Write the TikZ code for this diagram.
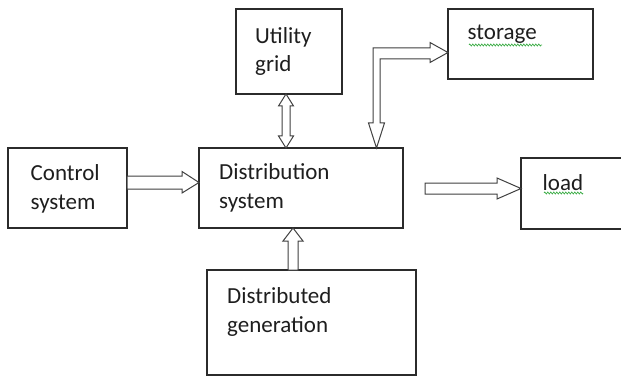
\documentclass[tikz,border=0pt]{standalone}
\usepackage{fontspec}
\setmainfont{Carlito}
\usetikzlibrary{calc,decorations.pathmorphing}
\definecolor{boxc}{HTML}{2B2B2B}
\definecolor{arrc}{HTML}{404040}
\definecolor{txtc}{HTML}{1E1E1E}
\definecolor{spellc}{HTML}{3FAE49}
\begin{document}
\begin{tikzpicture}[x=1pt,y=-1pt,
  box/.style={draw=boxc, line width=1.3pt, inner sep=0pt, outer sep=0pt, anchor=north west},
  txt/.style={inner sep=0pt, anchor=base west, align=left, font=\fontsize{23}{28.7}\selectfont, text=txtc},
  blk/.style={draw=arrc, line width=1pt, fill=white, line join=miter},
  squig/.style={draw=spellc, line width=0.7pt, decorate, decoration={zigzag, segment length=3pt, amplitude=1pt}}]
\useasboundingbox (0,0) rectangle (621,377);
\clip (0,0) rectangle (621,377);
% boxes
\node[box, minimum width=106pt, minimum height=85pt] (util) at (236,9) {};
\node[box, minimum width=145pt, minimum height=70pt] (stor) at (448,9) {};
\node[box, minimum width=119pt, minimum height=80pt] (ctrl) at (8,148) {};
\node[box, minimum width=204pt, minimum height=80pt] (dist) at (199,148) {};
\node[box, minimum width=130pt, minimum height=71pt] (load) at (521,158) {};
\node[box, minimum width=209pt, minimum height=105pt] (dg) at (207,270) {};
% control -> distribution
\coordinate (a1) at (ctrl.east |- 0,182.5);
\coordinate (a1t) at (dist.west |- 0,182.5);
\draw[blk] ($(a1)+(0,-6.5)$) -- ($(a1t)+(-17,-6.5)$) -- ($(a1t)+(-17,-11)$) -- (a1t)
  -- ($(a1t)+(-17,10.5)$) -- ($(a1t)+(-17,6.5)$) -- ($(a1)+(0,6.5)$) -- cycle;
% distribution -> load
\coordinate (a2) at (425,188.5);
\coordinate (a2t) at (load.west |- a2);
\draw[blk] ($(a2)+(0,-5.5)$) -- ($(a2t)+(-24,-5.5)$) -- ($(a2t)+(-24,-10.5)$) -- (a2t)
  -- ($(a2t)+(-24,10.5)$) -- ($(a2t)+(-24,5.5)$) -- ($(a2)+(0,5.5)$) -- cycle;
% distributed generation -> distribution
\coordinate (a3) at (dg.north -| 293,0);
\coordinate (a3t) at (dist.south -| a3);
\draw[blk] ($(a3)+(-5,0)$) -- ($(a3t)+(-5,13)$) -- ($(a3t)+(-10,13)$) -- (a3t)
  -- ($(a3t)+(10,13)$) -- ($(a3t)+(5,13)$) -- ($(a3)+(5,0)$) -- cycle;
% utility grid <-> distribution
\coordinate (a4) at (util.south -| 286,0);
\coordinate (a4b) at (dist.north -| a4);
\draw[blk] (a4) -- ($(a4)+(7.5,12)$) -- ($(a4)+(4,12)$) -- ($(a4b)+(4,-12)$) -- ($(a4b)+(7.5,-12)$)
  -- (a4b) -- ($(a4b)+(-7.5,-12)$) -- ($(a4b)+(-4,-12)$) -- ($(a4)+(-4,12)$) -- ($(a4)+(-7.5,12)$) -- cycle;
% storage L-arrow
\coordinate (s0) at (373,48);
\coordinate (s1) at (stor.west |- 0,52.5);
\coordinate (s2) at (dist.north -| 376.5,0);
\draw[blk] (s0) -- ($(s1)+(-18,-4.5)$) -- ($(s1)+(-18,-10)$) -- (s1) -- ($(s1)+(-18,10)$)
  -- ($(s1)+(-18,6.5)$) -- (380,59) -- ($(s2)+(3.5,-25)$) -- ($(s2)+(8,-25)$) -- (s2)
  -- ($(s2)+(-8,-25)$) -- ($(s2)+(-3.5,-25)$) -- cycle;
% texts (base anchor = baseline of last line)
\node[txt] (utilt) at (255,72) {Utility\\grid};
\node[txt] (stort) at (467.5,40) {storage};
\node[txt] (ctrlt) at (30.5,209.5) {Control\\system};
\node[txt] (distt) at (219,208.5) {Distribution\\system};
\node[txt] (loadt) at (542.5,190) {load};
\node[txt] (dgt) at (227,332) {Distributed\\generation};
% spell-check underlines
\draw[squig] (469,45) -- (542,45);
\draw[squig] (544,193) -- (583,193);
\end{tikzpicture}
\end{document}
